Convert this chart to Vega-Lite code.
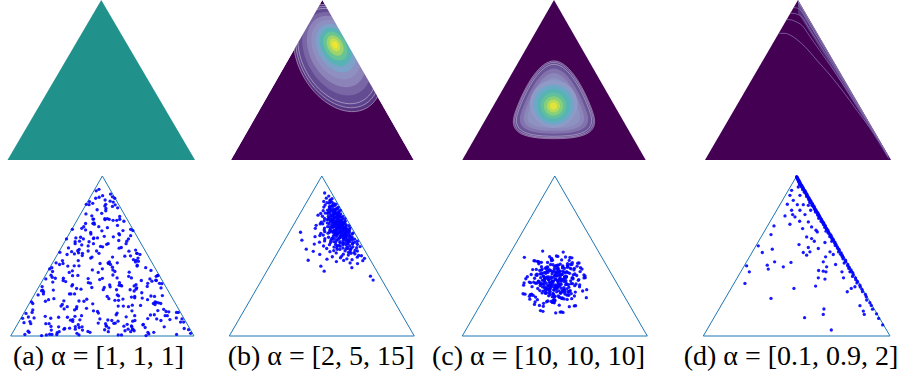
{
"$schema":"https://vega.github.io/schema/vega-lite/v6.json",
"padding":0,
"background":"white",
"config":{"view":{"stroke":null},"axis":{"disable":true},"legend":{"disable":true},
"title":{"font":"Liberation Serif","fontSize":28,"fontWeight":"normal","color":"#000000","orient":"bottom","frame":"group","anchor":"middle","baseline":"top","offset":5}},
"datasets":{
"tri":[{"i":0,"x":0,"y":0},{"i":1,"x":100,"y":173.2},{"i":2,"x":200,"y":0},{"i":3,"x":0,"y":0}],
"mk":[{"m":"L","x":-40,"y":0,"y2":180},{"m":"L","x":0,"y":0,"y2":180},{"m":"L","x":100,"y":173.2,"y2":180},{"m":"R","x":100,"y":173.2,"y2":180},{"m":"R","x":200,"y":0,"y2":180},{"m":"R","x":240,"y":0,"y2":180}],
"lb":[{"x":117.1,"y":110.4,"w":126,"d":0.04},{"x":116.8,"y":111.4,"w":119,"d":0.06},{"x":116.5,"y":112.5,"w":112,"d":0.08},{"x":116,"y":115,"w":98,"d":0.14},{"x":115.5,"y":117.5,"w":84,"d":0.22},{"x":115,"y":119.5,"w":70,"d":0.32},{"x":114.8,"y":121,"w":57,"d":0.44},{"x":114.5,"y":122.3,"w":45,"d":0.56},{"x":114.2,"y":123.3,"w":34,"d":0.68},{"x":114,"y":124,"w":24,"d":0.8},{"x":113.8,"y":124.5,"w":15,"d":0.9},{"x":113.8,"y":124.5,"w":8,"d":0.98}],
"lc":[{"k":"T","x":100,"y":64.5,"w":93,"d":0.04},{"k":"T","x":100,"y":64.3,"w":90,"d":0.07},{"k":"T","x":100,"y":64,"w":86,"d":0.1},{"k":"T","x":100,"y":63.2,"w":78,"d":0.17},{"k":"T","x":99.9,"y":62.3,"w":69,"d":0.25},{"k":"T","x":99.8,"y":61.4,"w":60,"d":0.33},{"k":"C","x":99.7,"y":60.5,"w":52,"d":0.4},{"k":"C","x":99.6,"y":59.8,"w":44,"d":0.48},{"k":"C","x":99.6,"y":59.2,"w":36,"d":0.57},{"k":"C","x":99.5,"y":58.8,"w":28,"d":0.66},{"k":"C","x":99.5,"y":58.5,"w":21,"d":0.76},{"k":"C","x":99.5,"y":58.5,"w":14,"d":0.86},{"k":"C","x":99.5,"y":58.5,"w":8,"d":0.95}],
"wd":[{"id":1,"d":0.04,"x":100,"y":159,"y2":166},{"id":1,"d":0.04,"x":198,"y":0,"y2":3.3},{"id":2,"d":0.1,"x":100,"y":166,"y2":170.5},{"id":2,"d":0.1,"x":200,"y":0,"y2":0},{"id":3,"d":0.22,"x":100,"y":170.5,"y2":173.2},{"id":3,"d":0.22,"x":200,"y":0,"y2":0}],
"cd":[
{"id":1,"x":79.9,"y":137.1},{"id":1,"x":86,"y":137.1},{"id":1,"x":91.4,"y":135.3},{"id":1,"x":98.6,"y":130.6},{"id":1,"x":107.5,"y":122.6},{"id":1,"x":120.1,"y":108.2},{"id":1,"x":134.4,"y":92},{"id":1,"x":148.7,"y":73.9},{"id":1,"x":163.1,"y":54.1},{"id":1,"x":177.4,"y":34.6},{"id":1,"x":188.2,"y":18.4},{"id":1,"x":196.8,"y":3.2},
{"id":2,"x":87.8,"y":152.1},{"id":2,"x":93,"y":151.6},{"id":2,"x":98,"y":149.5},{"id":2,"x":104,"y":146},{"id":2,"x":112,"y":135},{"id":2,"x":120,"y":123.4},{"id":2,"x":134.4,"y":102.8},{"id":2,"x":148.7,"y":81.4},{"id":2,"x":163.1,"y":59},{"id":2,"x":177.4,"y":36.9},{"id":2,"x":188.2,"y":19.4},{"id":2,"x":196.8,"y":4.5},
{"id":3,"x":91.8,"y":159},{"id":3,"x":96,"y":158.6},{"id":3,"x":100,"y":157.5},{"id":3,"x":104,"y":155.1},{"id":3,"x":112,"y":142.6},{"id":3,"x":120,"y":130.1},{"id":3,"x":134.4,"y":107.6},{"id":3,"x":148.7,"y":84.7},{"id":3,"x":163.1,"y":61.2},{"id":3,"x":177.4,"y":37.8},{"id":3,"x":188.2,"y":19.8},
{"id":4,"x":95.3,"y":165},{"id":4,"x":99,"y":164.5},{"id":4,"x":104,"y":160.7},{"id":4,"x":112,"y":147.5},{"id":4,"x":120,"y":134.3},{"id":4,"x":134.4,"y":110.6},{"id":4,"x":148.7,"y":86.8},{"id":4,"x":163.1,"y":62.5},{"id":4,"x":177.4,"y":38.5}],
"pa":[
{"x":111,"y":150.7},{"x":60,"y":58.9},{"x":141,"y":88.3},{"x":44,"y":65.8},{"x":111,"y":74.5},{"x":100,"y":72.7},{"x":21,"y":15.6},{"x":107,"y":8.7},{"x":58,"y":38.1},{"x":118,"y":110.8},{"x":129,"y":91.8},{"x":13,"y":19.1},{"x":112,"y":107.4},{"x":126,"y":20.8},{"x":19,"y":5.2},{"x":44,"y":10.4},{"x":143,"y":46.8},{"x":153,"y":43.3},{"x":111,"y":140.3},{"x":103,"y":147.2},{"x":164,"y":52},{"x":83,"y":39.8},{"x":194,"y":6.9},{"x":106,"y":17.3},{"x":119,"y":126.4},{"x":45,"y":1.7},{"x":149,"y":53.7},{"x":63,"y":95.3},{"x":101,"y":50.2},{"x":114,"y":142},{"x":181,"y":1.7},{"x":114,"y":13.9},{"x":100,"y":62.4},{"x":87,"y":57.2},{"x":74,"y":90.1},{"x":153,"y":71},{"x":86,"y":145.5},{"x":108,"y":55.4},{"x":98,"y":97},{"x":159,"y":36.4},
{"x":106.3,"y":79.2},{"x":35.7,"y":45.6},{"x":147.3,"y":74},{"x":87.3,"y":84.3},{"x":159.3,"y":18.5},{"x":158.7,"y":64.6},{"x":67.3,"y":115.5},{"x":147.7,"y":0.5},{"x":132.3,"y":27.2},{"x":41.3,"y":39.3},{"x":66.7,"y":54.2},{"x":118.3,"y":54.9},{"x":74.7,"y":9.2},{"x":90.3,"y":99.9},{"x":81.7,"y":114.8},{"x":134.7,"y":5.7},{"x":67.7,"y":17.8},{"x":100.3,"y":151.9},{"x":117.3,"y":32.4},{"x":61.7,"y":31.7},{"x":52.3,"y":9.9},{"x":94.7,"y":26.5},{"x":196.3,"y":2.9},{"x":78.3,"y":6.4},{"x":90.7,"y":106.2},{"x":87.3,"y":112.1},{"x":113.7,"y":38.6},{"x":107.7,"y":80.2},{"x":163.7,"y":35.2},{"x":89.7,"y":121.8},{"x":116.3,"y":44.5},{"x":96.3,"y":158.8},{"x":113.7,"y":69.8},{"x":111.7,"y":125.2},{"x":77.3,"y":22},{"x":78.3,"y":89.5},{"x":185.3,"y":15.1},{"x":136.7,"y":50.7},{"x":45.3,"y":63.6},{"x":120.7,"y":95.8},
{"x":34.3,"y":53.5},{"x":65.3,"y":17.1},{"x":130.7,"y":86.8},{"x":91.3,"y":121.1},{"x":43.7,"y":19.2},{"x":129.3,"y":69.1},{"x":73.7,"y":12.3},{"x":73.3,"y":65.6},{"x":48.7,"y":62.5},{"x":132.7,"y":7.1},{"x":71.7,"y":29.6},{"x":94.3,"y":136.7},{"x":130.3,"y":50.1},{"x":93.7,"y":92},{"x":50.3,"y":1.6},{"x":158.3,"y":60.4},{"x":16.7,"y":24.4},{"x":141.7,"y":33.1},{"x":73.7,"y":81.6},{"x":69.3,"y":76},{"x":135.3,"y":41.4},{"x":67.7,"y":15.8},{"x":64.3,"y":8.5},{"x":89.7,"y":126.6},{"x":134.7,"y":48.7},{"x":19.3,"y":20.6},{"x":162.3,"y":57},{"x":116.7,"y":138.7},{"x":133.3,"y":114.1},{"x":90.3,"y":105.5},{"x":74.7,"y":93.7},{"x":136.7,"y":55.6},{"x":70.3,"y":102},{"x":144.3,"y":12},{"x":118.3,"y":95.1},{"x":92.7,"y":149.1},{"x":117.7,"y":43.5},{"x":58.3,"y":29.3},{"x":50.7,"y":3.6},{"x":84.3,"y":5},
{"x":157.5,"y":36.9},{"x":167.5,"y":9.9},{"x":96.5,"y":150.2},{"x":135.5,"y":16.8},{"x":123.5,"y":124.2},{"x":69.5,"y":88.9},{"x":103.5,"y":13.3},{"x":105.5,"y":117.3},{"x":97.5,"y":78.5},{"x":74.5,"y":1.2},{"x":82.5,"y":142.5},{"x":143.5,"y":41},{"x":87.5,"y":110.3},{"x":84.5,"y":97.5},{"x":137.5,"y":89.5},{"x":95.5,"y":68.8},{"x":157.5,"y":34.1},{"x":66.5,"y":91.3},{"x":106.5,"y":4.7},{"x":77.5,"y":116.6},{"x":128.5,"y":105.1},{"x":99.5,"y":113.8},{"x":111.5,"y":71.5},{"x":105.5,"y":127},{"x":46.5,"y":49.7},{"x":104.5,"y":10.9},{"x":25.5,"y":19.6},{"x":165.5,"y":43.8},{"x":70.5,"y":7.4},{"x":49.5,"y":79.2},{"x":128.5,"y":31.7},{"x":168.5,"y":22},{"x":169.5,"y":26.5},{"x":86.5,"y":4},{"x":14.5,"y":14.4},{"x":88.5,"y":52.5},{"x":108.5,"y":53.2},{"x":108.5,"y":146},{"x":67.5,"y":65.3},{"x":142.5,"y":60.1},
{"x":137.5,"y":52.1},{"x":107.5,"y":126.3},{"x":160.5,"y":27.5},{"x":133.5,"y":7.1},{"x":85.5,"y":142.2},{"x":149.5,"y":57},{"x":77.5,"y":98.6},{"x":84.5,"y":92},{"x":123.5,"y":10.6},{"x":74.5,"y":37.9},{"x":75.5,"y":17.5},{"x":61.5,"y":88.2},{"x":122.5,"y":40},{"x":88.5,"y":130.1},{"x":70.5,"y":10.2},{"x":74.5,"y":76},{"x":111.5,"y":66},{"x":67.5,"y":55.6},{"x":15.5,"y":1.6},{"x":102.5,"y":6.8},{"x":90.5,"y":126.6},{"x":122.5,"y":114.1},{"x":89.5,"y":34.8},{"x":42.5,"y":72.6},{"x":115.5,"y":50.1},{"x":116.5,"y":119.7},{"x":172.5,"y":26.2},{"x":95.5,"y":14},{"x":56.5,"y":81.6},{"x":149.5,"y":18.9},{"x":124.5,"y":86.4},{"x":113.5,"y":149.1},{"x":85.5,"y":102},{"x":112.5,"y":13.7},{"x":152.5,"y":22.7},{"x":42.5,"y":1.9},{"x":89.5,"y":143.6},{"x":160.5,"y":65.6},{"x":84.5,"y":62.2},{"x":57.5,"y":62.5},
{"x":20.1,"y":4},{"x":41.9,"y":13.3},{"x":116.1,"y":62.9},{"x":166.9,"y":28.9},{"x":125.9,"y":99.9},{"x":24.1,"y":28.2},{"x":104.1,"y":10.9},{"x":37.9,"y":37.6},{"x":111.1,"y":85.4},{"x":96.1,"y":118.3},{"x":133.1,"y":16.1},{"x":38.9,"y":1.2},{"x":57.1,"y":78.5},{"x":122.9,"y":32.4},{"x":90.9,"y":122.5},{"x":58.1,"y":7.4},{"x":77.9,"y":9.9},{"x":44.9,"y":74},{"x":151.9,"y":61.8},{"x":61.9,"y":20.3},{"x":102.1,"y":107.9},{"x":138.9,"y":84.3},{"x":45.9,"y":58.4},{"x":108.9,"y":77.4},{"x":130.9,"y":4.7},{"x":102.9,"y":125.9},{"x":47.1,"y":40.4},{"x":116.1,"y":24.8},{"x":70.1,"y":21.3},{"x":118.9,"y":129.4},{"x":24.1,"y":35.2},{"x":154.1,"y":59.4},{"x":163.9,"y":16.8},{"x":63.9,"y":68.8},{"x":121.1,"y":54.2},{"x":182.9,"y":25.5},{"x":117.9,"y":103.4},{"x":156.9,"y":42.8},{"x":34.9,"y":49.7},{"x":137.9,"y":89.5},
{"x":128.1,"y":7.4},{"x":156.1,"y":4},{"x":102.1,"y":52.5},{"x":29.9,"y":44.5},{"x":137.9,"y":75.7},{"x":73.1,"y":92.3},{"x":79.9,"y":37.6},{"x":103.9,"y":138},{"x":120.9,"y":1.2},{"x":170.9,"y":22},{"x":35.9,"y":48},{"x":117.1,"y":16.1},{"x":186.9,"y":18.5},{"x":52.9,"y":4.7},{"x":158.9,"y":60.1},{"x":82.1,"y":132.2},{"x":127.1,"y":12.6},{"x":72.1,"y":31.7},{"x":54.9,"y":32.4},{"x":138.1,"y":76.7},{"x":75.1,"y":102.7},{"x":164.9,"y":56.6},{"x":130.9,"y":108.6},{"x":180.9,"y":25.5},{"x":108.9,"y":153.6},{"x":115.1,"y":23},{"x":58.9,"y":8.1},{"x":89.1,"y":71.5},{"x":60.9,"y":105.1},{"x":107.1,"y":40.4},{"x":71.9,"y":51.4},{"x":78.1,"y":87.1},{"x":133.9,"y":82.6},{"x":111.9,"y":145},{"x":97.1,"y":61.1},{"x":130.9,"y":115.5},{"x":71.1,"y":106.2},{"x":136.1,"y":80.2},{"x":21.9,"y":13.3},{"x":64.1,"y":45.6},
{"x":118.7,"y":109.6},{"x":103.7,"y":142.5},{"x":136.3,"y":93},{"x":96.3,"y":89.5},{"x":33.7,"y":49},{"x":135.3,"y":42.8},{"x":67.3,"y":70.5},{"x":104.7,"y":99.2},{"x":124.7,"y":5.7},{"x":23.3,"y":25.5},{"x":135.3,"y":22},{"x":156.7,"y":23},{"x":94.7,"y":106.2},{"x":134.7,"y":54.2},{"x":79.3,"y":105.1},{"x":116.3,"y":79.2},{"x":82.7,"y":30},{"x":56.3,"y":34.1},{"x":188.7,"y":15.1},{"x":117.7,"y":38.6},{"x":84.7,"y":57.7},{"x":150.7,"y":2.3},{"x":93.3,"y":157.1},{"x":97.3,"y":18.5},{"x":65.7,"y":45.6},{"x":180.7,"y":19.6},{"x":117.3,"y":1.2},{"x":103.7,"y":135.6},{"x":155.7,"y":35.2},{"x":106.7,"y":78.5},{"x":70.3,"y":99.9},{"x":131.7,"y":42.1},{"x":79.7,"y":118.3},{"x":44.3,"y":6.4},{"x":132.3,"y":9.9},{"x":115.7,"y":125.2},{"x":131.7,"y":10.9},{"x":53.7,"y":90.6},{"x":128.7,"y":64.6},{"x":57.3,"y":60.1},
{"x":102.7,"y":127},{"x":100.3,"y":96.5},{"x":95.7,"y":24.8},{"x":81.7,"y":121.8},{"x":90.3,"y":27.2},{"x":161.3,"y":35.9},{"x":38.3,"y":13.3},{"x":110.3,"y":16.8},{"x":102.7,"y":140.8},{"x":149.3,"y":39.3},{"x":144.7,"y":12.6},{"x":88.7,"y":85.4},{"x":76.3,"y":106.9},{"x":139.3,"y":80.9},{"x":106.3,"y":99.9},{"x":69.7,"y":28.2},{"x":45.7,"y":69.8},{"x":136.7,"y":81.9},{"x":173.7,"y":17.8},{"x":33.7,"y":0.5},{"x":105.3,"y":42.8},{"x":99.3,"y":132.8},{"x":126.7,"y":102.7},{"x":146.7,"y":9.2},{"x":189.3,"y":8.1},{"x":131.7,"y":62.9},{"x":53.3,"y":77.4},{"x":69.7,"y":45.6},{"x":72.3,"y":2.9},{"x":52.3,"y":20.3},{"x":160.3,"y":65.3},{"x":22.7,"y":36.9},{"x":120.3,"y":54.9},{"x":37.7,"y":21.3},{"x":149.7,"y":4},{"x":62.3,"y":75.7},{"x":118.7,"y":57.7},{"x":76.7,"y":50.7},{"x":38.3,"y":61.8},{"x":132.7,"y":33.4}],
"pb":[
{"x":130.6,"y":79.1},{"x":144.3,"y":81.5},{"x":115.8,"y":80.6},{"x":138.6,"y":78.4},{"x":123.7,"y":81.8},
{"x":105.6,"y":83.2},{"x":138.4,"y":85.3},{"x":120.2,"y":84.7},{"x":132.7,"y":82.6},{"x":146.2,"y":84.1},{"x":111.4,"y":85.8},{"x":127.1,"y":83.5},
{"x":139.9,"y":87.2},{"x":131.6,"y":89.6},{"x":97.8,"y":88.3},{"x":121.6,"y":86.5},{"x":135.9,"y":88.9},{"x":128.7,"y":87.7},{"x":115.6,"y":89.9},{"x":142.9,"y":86.9},{"x":123.3,"y":88.6},
{"x":108.8,"y":91.3},{"x":131.1,"y":93.4},{"x":128.9,"y":90.6},{"x":136.1,"y":92.8},{"x":116.7,"y":93.9},{"x":90.8,"y":91.7},{"x":125.2,"y":92.2},{"x":134.8,"y":90.3},{"x":112.9,"y":92.5},{"x":130.5,"y":91.1},{"x":119.6,"y":93.7},{"x":138.5,"y":92},
{"x":122.8,"y":95.2},{"x":101.9,"y":97.4},{"x":128.6,"y":94.5},{"x":141.4,"y":96.8},{"x":116.2,"y":95.9},{"x":130.2,"y":97.7},{"x":126,"y":94.3},{"x":137.7,"y":95.6},{"x":113.2,"y":96.3},{"x":131.8,"y":94.9},{"x":119.8,"y":97.1},{"x":105.3,"y":94.7},{"x":133.6,"y":96.5},{"x":116.7,"y":97.9},{"x":127.6,"y":96.1},
{"x":138.5,"y":99.3},{"x":109.5,"y":101.2},{"x":122.8,"y":98.6},{"x":133.4,"y":100.7},{"x":128,"y":99.8},{"x":97.5,"y":101.6},{"x":118.8,"y":98.2},{"x":130.2,"y":101.9},{"x":124.4,"y":100.3},{"x":114.9,"y":99.1},{"x":135.6,"y":101.4},{"x":119.8,"y":100.9},{"x":108.3,"y":98.9},{"x":128.2,"y":101},{"x":126.3,"y":98.4},{"x":133.2,"y":99.6},{"x":115.1,"y":101.7},{"x":91.9,"y":99.5},{"x":122.6,"y":100.5},
{"x":129.2,"y":103.3},{"x":110.6,"y":105.1},{"x":126.5,"y":102.4},{"x":117.3,"y":104.6},{"x":132.9,"y":103.8},{"x":119,"y":105.7},{"x":103,"y":102.9},{"x":124.7,"y":104.2},{"x":138.4,"y":102.6},{"x":113.6,"y":105.4},{"x":127.5,"y":104.9},{"x":122.9,"y":103.1},{"x":132.5,"y":105.9},{"x":113,"y":102.2},{"x":128.2,"y":103.6},{"x":119.5,"y":102.1},{"x":103.3,"y":105.3},{"x":130.2,"y":104.4},{"x":116.2,"y":103.7},{"x":123.9,"y":105.6},{"x":135.5,"y":104.8},{"x":109.9,"y":103.5},
{"x":120,"y":107.2},{"x":129.4,"y":109.3},{"x":125.7,"y":106.5},{"x":97.9,"y":108.8},{"x":115.9,"y":107.7},{"x":126.9,"y":109.6},{"x":122.8,"y":106.3},{"x":112.6,"y":108.4},{"x":132.8,"y":107.1},{"x":117,"y":109.8},{"x":107.3,"y":106.9},{"x":125.6,"y":108.1},{"x":122,"y":109.1},{"x":130,"y":106.7},{"x":113.6,"y":109.4},{"x":92.7,"y":107.5},{"x":120,"y":108.6},{"x":127.1,"y":107.9},{"x":111.5,"y":106.1},{"x":124.3,"y":107.4},{"x":115.5,"y":109.9},{"x":130.6,"y":108.3},{"x":119.5,"y":106.8},{"x":101.6,"y":109.2},{"x":122.9,"y":108.7},
{"x":133.6,"y":111.2},{"x":111.9,"y":113.3},{"x":125.5,"y":110.5},{"x":119.3,"y":112.7},{"x":129.7,"y":111.8},{"x":109.7,"y":113.7},{"x":124.5,"y":112.4},{"x":116.8,"y":110.9},{"x":103.2,"y":112.9},{"x":126,"y":113.9},{"x":114.4,"y":111.4},{"x":121.1,"y":113.6},{"x":132.8,"y":110.3},{"x":108.3,"y":112.2},{"x":118.5,"y":111.6},{"x":128,"y":112.6},{"x":124,"y":110.8},{"x":99,"y":111.1},{"x":114.2,"y":113.1},{"x":126.4,"y":111.5},{"x":121.5,"y":110.2},{"x":112,"y":112.1},{"x":129.6,"y":113.4},{"x":116.5,"y":112.8},{"x":106.7,"y":111.3},{"x":123,"y":113.8},{"x":121.3,"y":111.9},
{"x":126.1,"y":115.3},{"x":111.7,"y":117.4},{"x":93,"y":116.6},{"x":118.7,"y":114.5},{"x":123.2,"y":116.9},{"x":109.3,"y":115.8},{"x":120.1,"y":117.8},{"x":115.5,"y":114.3},{"x":127,"y":116.2},{"x":115.6,"y":117.6},{"x":102.6,"y":114.8},{"x":120.6,"y":115.6},{"x":130.4,"y":117.1},{"x":112.9,"y":114.1},{"x":123.6,"y":115.1},{"x":117.8,"y":117.3},{"x":128.4,"y":114.7},{"x":108.8,"y":117.9},{"x":122.9,"y":116.4},{"x":115.3,"y":115.9},{"x":102.9,"y":116.8},{"x":124.3,"y":117.5},{"x":114.1,"y":114.4},{"x":120,"y":116.7},{"x":130,"y":115.4},{"x":108.7,"y":114.6},{"x":117,"y":116.1},{"x":125.5,"y":117.7},
{"x":120.6,"y":119.4},{"x":98.3,"y":121.3},{"x":113.6,"y":118.7},{"x":122.3,"y":120.8},{"x":117.1,"y":121.7},{"x":110.8,"y":119.2},{"x":126.3,"y":120.2},{"x":113.8,"y":121.9},{"x":106.3,"y":118.3},{"x":120.7,"y":120.5},{"x":119,"y":118.9},{"x":123.1,"y":121.5},{"x":111.4,"y":120.6},{"x":93.9,"y":119.8},{"x":117.5,"y":118.5},{"x":122.6,"y":119.1},{"x":108,"y":121.1},{"x":118.6,"y":121.8},{"x":113.4,"y":120.1},{"x":126,"y":118.6},{"x":115.5,"y":119.6},{"x":101,"y":121.4},{"x":118.8,"y":120.3},{"x":129.2,"y":119.5},{"x":112.1,"y":118.2},{"x":120.8,"y":121.2},{"x":116.7,"y":120.9},{"x":124.9,"y":121.6},
{"x":108.9,"y":123.3},{"x":119.2,"y":125.2},{"x":114,"y":122.5},{"x":102.5,"y":124.6},{"x":121.7,"y":123.8},{"x":110.4,"y":125.7},{"x":118.2,"y":122.9},{"x":125.4,"y":124.3},{"x":105.7,"y":125.9},{"x":115.1,"y":123.5},{"x":123.7,"y":122.2},{"x":118.2,"y":124.8},{"x":99.4,"y":123.1},{"x":111.8,"y":124.1},{"x":120.1,"y":125.5},{"x":117.2,"y":122.7},{"x":109.4,"y":124.4},{"x":124.6,"y":123.6},{"x":112.6,"y":125.8},{"x":106,"y":122.4},{"x":119.4,"y":123.9},{"x":116.3,"y":125.3},{"x":121.8,"y":124.7},{"x":111.5,"y":122.8},{"x":115,"y":124.5},{"x":121.5,"y":122.1},
{"x":107.6,"y":127.4},{"x":116,"y":129.2},{"x":112.3,"y":126.6},{"x":121,"y":128.7},{"x":113.1,"y":127.9},{"x":100.7,"y":129.6},{"x":117.2,"y":126.3},{"x":125,"y":127.1},{"x":109.1,"y":128.5},{"x":117.3,"y":129.8},{"x":114.5,"y":128.2},{"x":122.5,"y":126.9},{"x":107,"y":129.4},{"x":118.5,"y":127.6},{"x":110.9,"y":129.9},{"x":103,"y":127.2},{"x":119.3,"y":128.9},{"x":111.3,"y":126.4},{"x":116.1,"y":128.1},{"x":122.7,"y":129.5},{"x":107.3,"y":126.2},{"x":113,"y":129.1},
{"x":119.4,"y":131.3},{"x":114.9,"y":133.4},{"x":98.8,"y":132.6},{"x":110.9,"y":130.5},{"x":117.1,"y":132.9},{"x":114,"y":131.7},{"x":107,"y":133.8},{"x":120.4,"y":132.2},{"x":112,"y":130.9},{"x":103.7,"y":133.1},{"x":116.7,"y":131.1},{"x":114.1,"y":132.4},{"x":117.7,"y":133.6},{"x":109.3,"y":131.5},{"x":95.9,"y":130.8},{"x":112.2,"y":133.2},{"x":118.1,"y":130.3},{"x":106.3,"y":132.7},
{"x":114.3,"y":135.2},{"x":108.7,"y":137.3},{"x":118.4,"y":134.6},{"x":110.2,"y":136.8},{"x":101.5,"y":135.7},{"x":112.3,"y":137.8},{"x":120.1,"y":135.9},{"x":108.6,"y":134.4},{"x":114.7,"y":136.5},{"x":112.6,"y":134.9},{"x":117.2,"y":137.5},{"x":106.3,"y":136.2},{"x":114.4,"y":137.1},{"x":110.2,"y":135.4},
{"x":102.2,"y":139.6},{"x":113.9,"y":141.3},{"x":108.4,"y":138.8},{"x":111.5,"y":140.7},{"x":117.8,"y":139.2},{"x":103.6,"y":141.8},{"x":109.9,"y":140.2},{"x":116.3,"y":138.5},{"x":111.8,"y":141.6},{"x":108.2,"y":139.9},
{"x":113,"y":143.2},{"x":109,"y":145.4},{"x":105.6,"y":144.3},{"x":115.3,"y":142.6},{"x":108.2,"y":143.8},{"x":102.1,"y":145.7},{"x":111,"y":144.9},
{"x":109.2,"y":147.3},{"x":111.1,"y":148.6},{"x":104.9,"y":149.2},{"x":108.8,"y":146.5},{"x":107.5,"y":151.5},{"x":103.1,"y":154.8},
{"x":152.6,"y":64.8},{"x":155.5,"y":60.5},{"x":99,"y":75.6},{"x":102.6,"y":70.2},{"x":132.5,"y":74},{"x":85.3,"y":82},{"x":83.2,"y":94},{"x":78.5,"y":103.7},{"x":77,"y":112.3}],
"pc":[
{"x":103.2,"y":68.4},{"x":88.2,"y":56.6},{"x":120,"y":66.2},{"x":99.6,"y":39},{"x":93.8,"y":54.9},{"x":109.4,"y":61.4},{"x":73.8,"y":57.7},{"x":113.1,"y":55.8},{"x":97.6,"y":69.4},{"x":105.1,"y":53.9},{"x":84,"y":67.2},{"x":107.2,"y":26.1},{"x":90.6,"y":47.2},{"x":101.3,"y":52.8},{"x":80,"y":72.1},{"x":100.4,"y":43},{"x":111.8,"y":60.3},{"x":95.9,"y":70.8},{"x":117.8,"y":45.9},{"x":86.9,"y":91.9},{"x":102.4,"y":65.2},{"x":92.8,"y":50.8},{"x":132.9,"y":63.1},{"x":98.7,"y":36.5},{"x":85.6,"y":75},{"x":106.2,"y":62.2},{"x":96.8,"y":58.6},{"x":122.5,"y":32.8},{"x":91.8,"y":64.1},{"x":110.4,"y":49.6},{"x":82.2,"y":59.4},{"x":104.1,"y":76.8},{"x":94.9,"y":51.8},{"x":114.4,"y":44.6},{"x":77.5,"y":81.5},{"x":108.2,"y":41.2},{"x":89.6,"y":73.4},{"x":116,"y":48.6},{"x":67.1,"y":85.2},{"x":126.2,"y":79},
{"x":113.8,"y":78.4},{"x":98.3,"y":63.5},{"x":105.8,"y":70.2},{"x":84.7,"y":57.1},{"x":107.9,"y":40.6},{"x":91.3,"y":74.4},{"x":102,"y":52.2},{"x":80.7,"y":65.6},{"x":101.1,"y":76.2},{"x":112.5,"y":64.6},{"x":96.6,"y":53.3},{"x":118.5,"y":84.6},{"x":87.6,"y":32.2},{"x":103.1,"y":59.7},{"x":93.5,"y":60.8},{"x":131.6,"y":62.9},{"x":99.4,"y":35.9},{"x":86.3,"y":46.6},{"x":106.9,"y":56},{"x":97.5,"y":58.8},{"x":121.2,"y":73.3},{"x":92.5,"y":68.8},{"x":111.1,"y":48},{"x":82.9,"y":58},{"x":104.8,"y":42.4},{"x":95.6,"y":54.3},{"x":115.1,"y":44},{"x":78.2,"y":62.5},{"x":108.9,"y":25.5},{"x":90.3,"y":67.8},{"x":116.7,"y":49},{"x":67.8,"y":45.3},{"x":126.9,"y":55.2},{"x":103.9,"y":72.8},{"x":88.9,"y":61.6},{"x":120.7,"y":71.5},{"x":100.3,"y":38.4},{"x":94.5,"y":51.2},{"x":110.1,"y":50.2},{"x":74.5,"y":66.6},
{"x":87.4,"y":65},{"x":93,"y":62.3},{"x":112.3,"y":64},{"x":83.2,"y":79.9},{"x":100.5,"y":61.2},{"x":111,"y":45.5},{"x":86.1,"y":68.1},{"x":130.1,"y":48.7},{"x":105.4,"y":55.8},{"x":91,"y":51.7},{"x":103.3,"y":86.1},{"x":76.7,"y":43.9},{"x":115.2,"y":52.7},{"x":102.4,"y":54.8},{"x":98.8,"y":59.5},{"x":73,"y":39.9},{"x":104.3,"y":66.1},{"x":89.8,"y":49.5},{"x":99.6,"y":73},{"x":117,"y":77.7},{"x":92,"y":70.3},{"x":84.8,"y":63.1},{"x":121.7,"y":67.1},{"x":81.4,"y":80.8},{"x":113.6,"y":74.3},{"x":88.8,"y":53.7},{"x":125.4,"y":60.3},{"x":119.2,"y":56.7},{"x":108.6,"y":75.9},{"x":96.8,"y":57.5},{"x":106.4,"y":46.8},{"x":79.2,"y":42.1},{"x":95.1,"y":48.1},{"x":101.6,"y":50.5},{"x":97.9,"y":58.6},{"x":96,"y":37.4},{"x":109.6,"y":69.3},{"x":94.1,"y":71.7},{"x":107.4,"y":82.4},{"x":66.3,"y":55},
{"x":100.8,"y":55.2},{"x":85.2,"y":56.1},{"x":97.1,"y":67.5},{"x":86.8,"y":53.1},{"x":105.3,"y":60.6},{"x":70.3,"y":64.2},{"x":110.6,"y":63.4},{"x":91.8,"y":62.5},{"x":88.1,"y":64.4},{"x":98,"y":77.1},{"x":115.6,"y":81.8},{"x":104.4,"y":48.9},{"x":114.3,"y":68.7},{"x":81.2,"y":39.3},{"x":94,"y":58},{"x":93,"y":54.2},{"x":109.4,"y":47.5},{"x":121.2,"y":43.3},{"x":106.3,"y":46.2},{"x":113,"y":51.1},{"x":99.9,"y":75.3},{"x":83.4,"y":33.1},{"x":117.2,"y":59.7},{"x":95,"y":44.9},{"x":108.4,"y":73.7},{"x":119,"y":79.3},{"x":107.4,"y":66.5},{"x":96.1,"y":61.7},{"x":127.4,"y":69.7},{"x":75,"y":45.4},{"x":102.5,"y":72.4},{"x":103.6,"y":71.1},{"x":123.7,"y":65.5},{"x":78.7,"y":36.8},{"x":89.4,"y":58.9},{"x":98.8,"y":49.9},{"x":101.6,"y":52.1},{"x":134.1,"y":41.5},{"x":111.6,"y":85.5},{"x":90.8,"y":56.9},
{"x":106.9,"y":51.7},{"x":102.1,"y":53.8},{"x":110.1,"y":40.1},{"x":66.8,"y":57.5},{"x":112.8,"y":69.7},{"x":111.5,"y":68.3},{"x":105.9,"y":77.9},{"x":77.2,"y":58.3},{"x":99.3,"y":49.7},{"x":90.3,"y":46.1},{"x":92.5,"y":37.9},{"x":81.9,"y":80.4},{"x":125.9,"y":61.1},{"x":97.3,"y":59.2},{"x":95.6,"y":54.7},{"x":96.5,"y":84.1},{"x":107.9,"y":48.5},{"x":93.5,"y":64.1},{"x":101,"y":25},{"x":132.6,"y":65.1},{"x":103.8,"y":43.5},{"x":102.9,"y":73.9},{"x":104.8,"y":41.9},{"x":117.5,"y":56.6},{"x":122.2,"y":47.5},{"x":89.3,"y":63},{"x":109.1,"y":90.8},{"x":79.7,"y":66.1},{"x":98.4,"y":55.5},{"x":94.6,"y":50.7},{"x":87.9,"y":35.4},{"x":83.7,"y":71},{"x":86.6,"y":60.3},{"x":91.5,"y":72.3},{"x":115.7,"y":31.7},{"x":73.5,"y":44.8},{"x":100.1,"y":52.8},{"x":85.3,"y":67.3},{"x":114.1,"y":75.7},{"x":119.7,"y":62},
{"x":109.9,"y":59.1},{"x":112.3,"y":63.6},{"x":123,"y":56.3},{"x":72.6,"y":42.9},{"x":105.6,"y":67.6},{"x":102.9,"y":52.2},{"x":104.6,"y":69.8},{"x":118.5,"y":77.3},{"x":101.8,"y":86.6},{"x":86.1,"y":72.2},{"x":108.7,"y":74.8},{"x":74.3,"y":44.4},{"x":96.4,"y":82.9},{"x":92.3,"y":54.2},{"x":126.7,"y":53.2},{"x":84.5,"y":27.5},{"x":93.3,"y":60.8},{"x":95.4,"y":55.3},{"x":100.1,"y":65.5},{"x":80.5,"y":57.2},{"x":106.7,"y":60},{"x":90.1,"y":62.8},{"x":113.6,"y":76.4},{"x":118.3,"y":40.4},{"x":110.9,"y":64.5},{"x":103.7,"y":58},{"x":107.7,"y":66.6},{"x":129.4,"y":72.4},{"x":114.9,"y":47.3},{"x":94.3,"y":50},{"x":100.9,"y":61.7},{"x":97.3,"y":42.6},{"x":116.5,"y":73.5},{"x":98.1,"y":46},{"x":87.4,"y":48.6},{"x":82.7,"y":78.2},{"x":88.7,"y":68.6},{"x":91.1,"y":51},{"x":99.2,"y":70.8},{"x":78,"y":34.2},
{"x":118.6,"y":62.9},{"x":99,"y":42.8},{"x":90.4,"y":69.2},{"x":86.8,"y":56.4},{"x":78.6,"y":81.3},{"x":121.1,"y":32.6},{"x":101.8,"y":65},{"x":99.9,"y":52.6},{"x":95.4,"y":57.5},{"x":124.8,"y":78.8},{"x":89.2,"y":51.6},{"x":104.8,"y":62},{"x":65.7,"y":45.7},{"x":105.8,"y":25.9},{"x":84.2,"y":54.7},{"x":114.6,"y":48.4},{"x":82.6,"y":59.2},{"x":97.3,"y":36.3},{"x":88.2,"y":60.1},{"x":103.7,"y":53.7},{"x":131.5,"y":66},{"x":106.8,"y":41},{"x":96.2,"y":63.9},{"x":91.4,"y":50.6},{"x":76.1,"y":71.9},{"x":111.7,"y":55.6},{"x":101,"y":68.2},{"x":113,"y":44.4},{"x":72.4,"y":58.4},{"x":85.5,"y":79.7},{"x":93.5,"y":47},{"x":108,"y":61.2},{"x":116.4,"y":85},{"x":102.7,"y":76.6},{"x":92.4,"y":74.8},{"x":94.5,"y":70.6},{"x":80.8,"y":67},{"x":98.2,"y":38.8},{"x":110.4,"y":73.2},{"x":109,"y":49.4},
{"x":88.5,"y":60.9},{"x":91.2,"y":37.1},{"x":102.9,"y":60},{"x":83.8,"y":49.2},{"x":114.7,"y":55.5},{"x":87.2,"y":26.7},{"x":89.8,"y":46.5},{"x":119.4,"y":62.8},{"x":109.8,"y":52.4},{"x":92.2,"y":79.6},{"x":112,"y":58.3},{"x":75.4,"y":53.4},{"x":100.3,"y":65.8},{"x":104.8,"y":33.4},{"x":97.5,"y":82.1},{"x":79.1,"y":57.2},{"x":108.8,"y":70},{"x":93.4,"y":43.6},{"x":111,"y":63.7},{"x":134.5,"y":50.2},{"x":127.8,"y":74},{"x":113.4,"y":39.6},{"x":116,"y":67.8},{"x":85.6,"y":71.4},{"x":124.1,"y":75.6},{"x":95.4,"y":77.4},{"x":94.4,"y":85.8},{"x":68.7,"y":62},{"x":102,"y":47.8},{"x":96.5,"y":81.5},{"x":106.7,"y":59.2},{"x":98.4,"y":45.2},{"x":101.2,"y":69},{"x":104,"y":56.4},{"x":117.6,"y":72.7},{"x":81.6,"y":51.4},{"x":105.7,"y":64.7},{"x":99.2,"y":41.8},{"x":107.8,"y":66.8},{"x":121.6,"y":54.5}],
"pd":[
{"x":192.1,"y":12},{"x":187.8,"y":19},{"x":185.5,"y":24},{"x":181.3,"y":29},{"x":179.9,"y":33},{"x":178.4,"y":36},{"x":175,"y":39},{"x":174.5,"y":42.5},{"x":173.6,"y":45},{"x":170.5,"y":48},{"x":169.9,"y":50.5},{"x":168.1,"y":53},{"x":167.7,"y":55},{"x":164.6,"y":57.5},{"x":165.1,"y":59},{"x":163.3,"y":61},{"x":163,"y":63},{"x":159.8,"y":64.5},{"x":160.6,"y":66.5},{"x":160.1,"y":68.5},{"x":158.4,"y":70},{"x":158.2,"y":71.5},{"x":155.9,"y":73},{"x":156.2,"y":74.5},{"x":154.6,"y":76},{"x":154.7,"y":77.5},{"x":150.9,"y":79},{"x":152.5,"y":80.5},{"x":152.3,"y":82},{"x":149.6,"y":83.5},{"x":150,"y":85},{"x":148.7,"y":86},{"x":148.8,"y":87.5},{"x":147.1,"y":88.5},{"x":147.6,"y":90},{"x":144.9,"y":91},{"x":145.6,"y":92.5},{"x":145.2,"y":94},{"x":143.8,"y":95},{"x":143.5,"y":96.5},{"x":141.4,"y":98},{"x":142.2,"y":99},{"x":140.8,"y":100.5},{"x":141,"y":101.5},{"x":137.6,"y":102.5},{"x":139.3,"y":103.5},{"x":139.2,"y":104.5},{"x":137.6,"y":105.5},{"x":137.8,"y":106.5},{"x":135.5,"y":107.5},{"x":137,"y":108.5},{"x":135.7,"y":109.5},{"x":135.6,"y":110.5},{"x":133.7,"y":111.5},{"x":134.2,"y":112.5},{"x":131.5,"y":113.5},{"x":133.4,"y":114.5},{"x":132,"y":115.5},{"x":132.1,"y":116.5},{"x":130.1,"y":117.5},{"x":130.7,"y":118.5},{"x":130.6,"y":119.5},{"x":128.8,"y":120.5},{"x":129.3,"y":121.5},{"x":128,"y":122.3},{"x":128.4,"y":123.2},{"x":126.2,"y":124},{"x":127.1,"y":124.9},{"x":126.2,"y":125.7},{"x":126.5,"y":126.6},{"x":123.6,"y":127.4},{"x":125.2,"y":128.3},{"x":124,"y":129.1},{"x":124.4,"y":130},{"x":122.6,"y":130.8},{"x":123.4,"y":131.7},{"x":122.4,"y":132.5},{"x":122.6,"y":133.4},{"x":120.1,"y":134.2},{"x":121.2,"y":135.1},{"x":120.2,"y":135.9},{"x":120.5,"y":136.8},{"x":118.9,"y":137.6},{"x":119.2,"y":138.9},{"x":118,"y":139.7},{"x":118.5,"y":140.5},{"x":116.4,"y":141.3},{"x":117.3,"y":142.1},{"x":116.4,"y":142.9},{"x":116.5,"y":143.7},{"x":114,"y":144.5},{"x":115.3,"y":145.3},{"x":114.2,"y":146.1},{"x":114.8,"y":146.9},{"x":112.9,"y":147.7},{"x":113.7,"y":148.5},{"x":112.6,"y":149.3},{"x":112.8,"y":150.1},{"x":110.7,"y":150.9},{"x":111.7,"y":151.7},{"x":110.5,"y":152.5},{"x":111.1,"y":153.3},{"x":110,"y":154.1},{"x":110,"y":154.9},{"x":108.3,"y":155.6},{"x":109.3,"y":156.3},{"x":108.2,"y":157},{"x":108.6,"y":157.7},{"x":106.5,"y":158.4},{"x":107.4,"y":159.1},{"x":106.6,"y":159.8},{"x":106.8,"y":160.5},{"x":105.3,"y":161.2},{"x":105.9,"y":161.9},{"x":104.8,"y":162.6},{"x":105.3,"y":163.3},{"x":103.1,"y":164},{"x":104.1,"y":164.7},{"x":103.3,"y":165.4},{"x":103.6,"y":166.1},{"x":102.1,"y":166.8},{"x":102.6,"y":167.5},{"x":102.5,"y":168.2},{"x":101.4,"y":168.9},{"x":101.5,"y":169.5},{"x":100.8,"y":170.2},{"x":101,"y":170.8},{"x":100.3,"y":171.4},{"x":100.2,"y":172},{"x":100,"y":172.6},
{"x":94.6,"y":157.7},{"x":101.7,"y":161.3},{"x":92.8,"y":152.3},{"x":103.5,"y":152.3},{"x":96.4,"y":146.9},{"x":90,"y":142.6},{"x":100.7,"y":142.2},{"x":107.1,"y":142.2},{"x":112.5,"y":141.5},{"x":94.6,"y":136.1},{"x":103.5,"y":136.1},{"x":115,"y":136.1},{"x":87.5,"y":130},{"x":95.7,"y":131.4},{"x":108.9,"y":131.4},{"x":98.2,"y":128.9},{"x":103.2,"y":124.2},{"x":92.8,"y":121},{"x":75.7,"y":119.2},{"x":112.5,"y":123.5},{"x":116,"y":118.1},{"x":106.4,"y":116.3},{"x":110.7,"y":107.3},{"x":116,"y":105.5},{"x":118.9,"y":102.6},{"x":72.5,"y":109.8},{"x":102.5,"y":99},{"x":58.9,"y":97.6},{"x":73.9,"y":94},{"x":63.2,"y":90.4},{"x":112.5,"y":95.8},{"x":123.2,"y":94.7},{"x":130.3,"y":101.2},{"x":107.1,"y":90.4},{"x":110.7,"y":87.5},{"x":131,"y":85.7},{"x":76.4,"y":80.3},{"x":93.9,"y":79.6},{"x":85.7,"y":74.9},{"x":68.5,"y":76.7},{"x":69.6,"y":72.4},{"x":46.4,"y":76},{"x":49.3,"y":69.5},{"x":44.6,"y":56.9},{"x":123.5,"y":70.9},{"x":128.5,"y":70.2},{"x":131.4,"y":69.5},{"x":123.2,"y":63},{"x":130.3,"y":61.6},{"x":148.5,"y":69.5},{"x":141.7,"y":77.4},{"x":150.2,"y":63},{"x":120.3,"y":54},{"x":97.1,"y":51.5},{"x":154.2,"y":47.9},{"x":72.5,"y":40.7},{"x":167.8,"y":32.8},{"x":171.4,"y":27},{"x":129.2,"y":29.2},{"x":128.5,"y":23.4},{"x":108.5,"y":19.8},{"x":172.4,"y":23.4},{"x":137.1,"y":6.5},{"x":158.5,"y":51.5},{"x":162.4,"y":53.3},{"x":157.1,"y":69.5},{"x":139.2,"y":88.2},{"x":135.7,"y":91.1},{"x":132.1,"y":74.9},{"x":128.5,"y":80.3},{"x":114.2,"y":91.1},{"x":120.7,"y":114.5},{"x":122.1,"y":112.7}]
},
"spacing":0,
"resolve":{"scale":{"x":"independent","y":"independent"}},
"hconcat":[
{"spacing":14,"resolve":{"scale":{"x":"independent","y":"independent"}},
"vconcat":[
{"width":215,"height":160,
"encoding":{"x":{"field":"x","type":"quantitative","scale":{"domain":[-8,221.33],"nice":false,"zero":false}},"y":{"field":"y","type":"quantitative","stack":null,"scale":{"domain":[0,173.2],"nice":false,"zero":false}}},
"layer":[{"data":{"name":"tri"},"mark":{"type":"area","color":"#21918c"},"encoding":{"y2":{"datum":0}}}]},
{"width":215,"height":160,"title":{"text":"(a) α = [1, 1, 1]","dx":-9},
"encoding":{"x":{"field":"x","type":"quantitative","scale":{"domain":[-11.67,222.9],"nice":false,"zero":false}},"y":{"field":"y","type":"quantitative","scale":{"domain":[0,173.2],"nice":false,"zero":false}}},
"layer":[{"data":{"name":"tri"},"mark":{"type":"line","color":"#1f77b4","strokeWidth":1},"encoding":{"order":{"field":"i","type":"quantitative"}}},
{"data":{"name":"pa"},"mark":{"type":"point","filled":true,"color":"#0000ff","size":11,"opacity":0.9}}]}
]},
{"spacing":14,"resolve":{"scale":{"x":"independent","y":"independent"}},
"vconcat":[
{"width":215,"height":160,
"encoding":{"x":{"field":"x","type":"quantitative","scale":{"domain":[-17.5,217.8],"nice":false,"zero":false}},"y":{"field":"y","type":"quantitative","stack":null,"scale":{"domain":[0,173.2],"nice":false,"zero":false}}},
"layer":[{"data":{"name":"tri"},"mark":{"type":"area","color":"#440154"},"encoding":{"y2":{"datum":0}}},
{"data":{"name":"lb"},"mark":{"type":"point","shape":"M-1,0A1,0.68,0,1,1,1,0A1,0.68,0,1,1,-1,0Z","angle":60,"filled":true,"opacity":1,"clip":true},
"encoding":{"size":{"field":"w","type":"quantitative","scale":{"type":"pow","exponent":2,"domain":[0,200],"range":[0,33489]}},"color":{"field":"d","type":"quantitative","scale":{"domain":[0,0.05,0.2,0.4,0.6,0.8,1],"range":["#440154","#5b3f8a","#8c80b6","#8f9bc6","#5db6a6","#9fd36c","#fde725"]}}}},
{"data":{"name":"lb"},"transform":[{"filter":"datum.d <= 0.08"}],"mark":{"type":"point","shape":"M-1,0A1,0.68,0,1,1,1,0A1,0.68,0,1,1,-1,0Z","angle":60,"filled":false,"color":"white","strokeWidth":0.6,"opacity":0.6,"clip":true},
"encoding":{"size":{"field":"w","type":"quantitative","scale":{"type":"pow","exponent":2,"domain":[0,200],"range":[0,33489]}}}},
{"data":{"name":"mk"},"mark":{"type":"area","color":"white","clip":true},"encoding":{"y2":{"field":"y2"},"detail":{"field":"m"}}}]},
{"width":215,"height":160,"title":{"text":"(b) α = [2, 5, 15]","dx":-1.5},
"encoding":{"x":{"field":"x","type":"quantitative","scale":{"domain":[-15.46,217],"nice":false,"zero":false}},"y":{"field":"y","type":"quantitative","scale":{"domain":[0,173.2],"nice":false,"zero":false}}},
"layer":[{"data":{"name":"tri"},"mark":{"type":"line","color":"#1f77b4","strokeWidth":1},"encoding":{"order":{"field":"i","type":"quantitative"}}},
{"data":{"name":"pb"},"mark":{"type":"point","filled":true,"color":"#0000ff","size":11,"opacity":0.9}}]}
]},
{"spacing":14,"resolve":{"scale":{"x":"independent","y":"independent"}},
"vconcat":[
{"width":250,"height":160,
"encoding":{"x":{"field":"x","type":"quantitative","scale":{"domain":[-35.2,237.4],"nice":false,"zero":false}},"y":{"field":"y","type":"quantitative","stack":null,"scale":{"domain":[0,173.2],"nice":false,"zero":false}}},
"layer":[{"data":{"name":"tri"},"mark":{"type":"area","color":"#440154"},"encoding":{"y2":{"datum":0}}},
{"data":{"name":"lc"},"mark":{"type":"point","filled":true,"opacity":1},
"encoding":{"shape":{"field":"k","type":"nominal","scale":{"domain":["T","C"],"range":["M0,-0.93C0.38,-0.93,0.75,-0.2,0.92,0.3C1.05,0.7,0.85,0.9,0,0.9C-0.85,0.9,-1.05,0.7,-0.92,0.3C-0.75,-0.2,-0.38,-0.93,0,-0.93Z","M-1,0A1,1,0,1,1,1,0A1,1,0,1,1,-1,0Z"]}},
"size":{"field":"w","type":"quantitative","scale":{"type":"pow","exponent":2,"domain":[0,200],"range":[0,33489]}},"color":{"field":"d","type":"quantitative","scale":{"domain":[0,0.05,0.2,0.4,0.6,0.8,1],"range":["#440154","#5b3f8a","#8c80b6","#8f9bc6","#5db6a6","#9fd36c","#fde725"]}}}},
{"data":{"name":"lc"},"transform":[{"filter":"datum.d <= 0.1"}],"mark":{"type":"point","filled":false,"color":"white","strokeWidth":0.6,"opacity":0.6},
"encoding":{"shape":{"field":"k","type":"nominal","scale":{"domain":["T","C"],"range":["M0,-0.93C0.38,-0.93,0.75,-0.2,0.92,0.3C1.05,0.7,0.85,0.9,0,0.9C-0.85,0.9,-1.05,0.7,-0.92,0.3C-0.75,-0.2,-0.38,-0.93,0,-0.93Z","M-1,0A1,1,0,1,1,1,0A1,1,0,1,1,-1,0Z"]}},
"size":{"field":"w","type":"quantitative","scale":{"type":"pow","exponent":2,"domain":[0,200],"range":[0,33489]}}}}]},
{"width":250,"height":160,"title":{"text":"(c) α = [10, 10, 10]","dx":-16.5},
"encoding":{"x":{"field":"x","type":"quantitative","scale":{"domain":[-34.9,235.35],"nice":false,"zero":false}},"y":{"field":"y","type":"quantitative","scale":{"domain":[0,173.2],"nice":false,"zero":false}}},
"layer":[{"data":{"name":"tri"},"mark":{"type":"line","color":"#1f77b4","strokeWidth":1},"encoding":{"order":{"field":"i","type":"quantitative"}}},
{"data":{"name":"pc"},"mark":{"type":"point","filled":true,"color":"#0000ff","size":11,"opacity":0.9}}]}
]},
{"spacing":14,"resolve":{"scale":{"x":"independent","y":"independent"}},
"vconcat":[
{"width":223,"height":160,
"encoding":{"x":{"field":"x","type":"quantitative","scale":{"domain":[-26.9,212.9],"nice":false,"zero":false}},"y":{"field":"y","type":"quantitative","stack":null,"scale":{"domain":[0,173.2],"nice":false,"zero":false}}},
"layer":[{"data":{"name":"tri"},"mark":{"type":"area","color":"#440154"},"encoding":{"y2":{"datum":0}}},
{"data":{"name":"wd"},"mark":{"type":"area","opacity":1},"encoding":{"y2":{"field":"y2"},"detail":{"field":"id"},"color":{"field":"d","type":"quantitative","scale":{"domain":[0,0.05,0.2,0.4,0.6,0.8,1],"range":["#440154","#5b3f8a","#8c80b6","#8f9bc6","#5db6a6","#9fd36c","#fde725"]}}}},
{"data":{"name":"cd"},"mark":{"type":"line","color":"#8a76b4","strokeWidth":0.8,"opacity":0.9,"interpolate":"monotone"},"encoding":{"detail":{"field":"id"}}}]},
{"width":223,"height":160,"title":{"text":"(d) α = [0.1, 0.9, 2]","dx":-0.5},
"encoding":{"x":{"field":"x","type":"quantitative","scale":{"domain":[-24.96,213.9],"nice":false,"zero":false}},"y":{"field":"y","type":"quantitative","scale":{"domain":[0,173.2],"nice":false,"zero":false}}},
"layer":[{"data":{"name":"tri"},"mark":{"type":"line","color":"#1f77b4","strokeWidth":1},"encoding":{"order":{"field":"i","type":"quantitative"}}},
{"data":{"name":"pd"},"mark":{"type":"point","filled":true,"color":"#0000ff","size":11,"opacity":0.9}}]}
]}
]
}
